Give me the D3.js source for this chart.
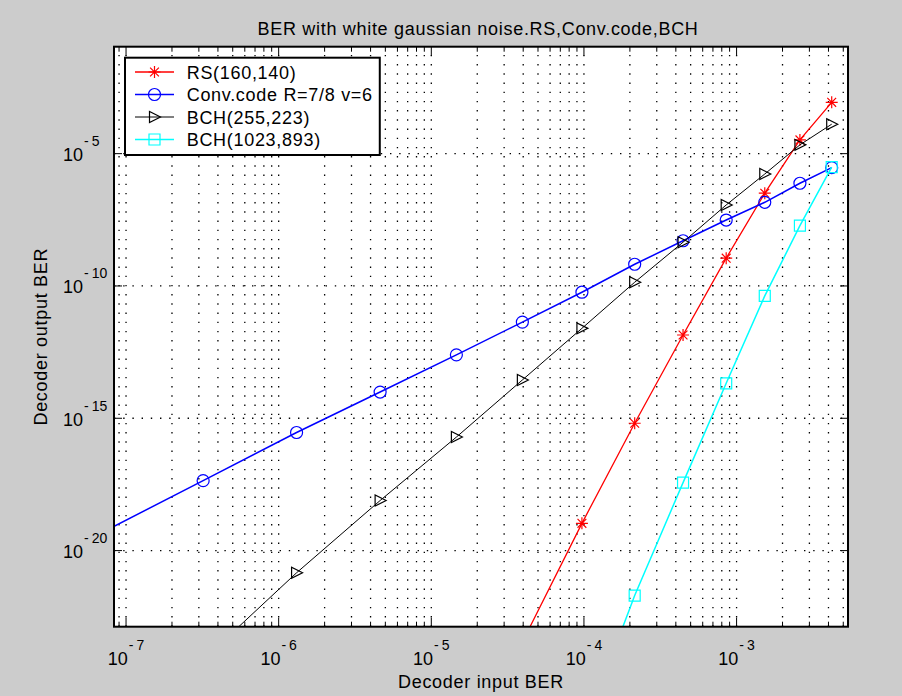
<!DOCTYPE html>
<html>
<head>
<meta charset="utf-8">
<script src="https://cdn.jsdelivr.net/npm/d3@7"></script>
<style>
  body { margin: 0; background: #cccccc; }
  svg { display: block; font-family: "Liberation Sans", Arial, sans-serif; }
</style>
</head>
<body>
<svg id="chart" width="902" height="696"></svg>
<script>
// decoder input BER, shared by all four curves
const inputBer = [7.0e-8, 3.2e-7, 1.31e-6, 4.62e-6, 1.46e-5, 3.95e-5, 9.7e-5,
  2.15e-4, 4.46e-4, 8.55e-4, 1.53e-3, 2.6e-3, 4.2e-3];

// decoder output BER per code (null = not computed)
const rsBer = [null, null, null, null, null, 3.5e-24, 1.07e-19,
  6.5e-16, 1.4e-12, 1.12e-9, 3.2e-7, 3.3e-5, 8.7e-4];
const convBer = [4.9e-20, 4.4e-18, 2.9e-16, 9.8e-15, 2.5e-13, 4.3e-12, 5.8e-11,
  6.6e-10, 5.1e-9, 3.1e-8, 1.45e-7, 7.6e-7, 2.95e-6];
const bch255Ber = [null, 7.4e-25, 1.45e-21, 7.8e-19, 1.95e-16, 2.8e-14, 2.5e-12,
  1.38e-10, 4.5e-9, 1.15e-7, 1.7e-6, 2.15e-5, 1.3e-4];
const bch1023Ber = [null, null, null, null, null, null, 1.07e-27,
  2.0e-22, 3.7e-18, 2.1e-14, 4.2e-11, 1.9e-8, 3.1e-6];

const seriesNames = ["RS(160,140)", "Conv.code R=7/8 v=6", "BCH(255,223)", "BCH(1023,893)"];
const xTickExps = [-7, -6, -5, -4, -3];
const yTickExps = [-20, -15, -10, -5];
const xLimits = [8.34e-8, 5.37e-3];
const yLimits = [1.33e-23, 0.11];

const titleText = "BER with white gaussian noise.RS,Conv.code,BCH";
const xLabel = "Decoder input BER";
const yLabel = "Decoder output BER";

const pLeft = 114, pRight = 848, pTop = 46.7, pBottom = 626.7;
const dots = "1.4 7.8";
const fontSize = 18;
const spacing = "0.7px";

let svg = d3.select("#chart");

let x = d3.scaleLog().domain(xLimits).range([pLeft, pRight]);
let y = d3.scaleLog().domain(yLimits).range([pBottom, pTop]);

// axes background
svg.append("rect")
  .attr("x", pLeft).attr("y", pTop)
  .attr("width", pRight - pLeft).attr("height", pBottom - pTop)
  .style("fill", "#fff");

svg.append("clipPath").attr("id", "plotClip")
  .append("rect")
  .attr("x", pLeft).attr("y", pTop)
  .attr("width", pRight - pLeft).attr("height", pBottom - pTop);

// every x tick: 1..9 of each decade inside the limits
let xMinor = [];
for (let e = -8; e <= -3; e++) {
  for (let k = 1; k <= 9; k++) {
    let v = k * Math.pow(10, e);
    if (v >= xLimits[0] && v <= xLimits[1]) xMinor.push(v);
  }
}
let xMajor = xTickExps.map((e) => Math.pow(10, e));
let yMajor = yTickExps.map((e) => Math.pow(10, e));

// dotted grid
let grid = svg.append("g")
  .style("stroke", "#000")
  .style("stroke-width", 1.3)
  .style("stroke-dasharray", dots);

grid.selectAll("line.vg")
  .data(xMinor)
  .enter()
  .append("line")
  .attr("class", "vg")
  .attr("x1", (d) => x(d)).attr("x2", (d) => x(d))
  .attr("y1", pBottom).attr("y2", pTop);

grid.selectAll("line.hg")
  .data(yMajor)
  .enter()
  .append("line")
  .attr("class", "hg")
  .attr("x1", pLeft).attr("x2", pRight)
  .attr("y1", (d) => y(d)).attr("y2", (d) => y(d));

// tick marks (inside, on all four sides)
let ticks = svg.append("g").style("stroke", "#000").style("stroke-width", 1);
xMinor.forEach((v) => {
  let len = xMajor.some((m) => Math.abs(m - v) / m < 1e-9) ? 9 : 5;
  ticks.append("line").attr("x1", x(v)).attr("x2", x(v))
    .attr("y1", pBottom).attr("y2", pBottom - len);
  ticks.append("line").attr("x1", x(v)).attr("x2", x(v))
    .attr("y1", pTop).attr("y2", pTop + len);
});
yMajor.forEach((v) => {
  ticks.append("line").attr("x1", pLeft).attr("x2", pLeft + 8)
    .attr("y1", y(v)).attr("y2", y(v));
  ticks.append("line").attr("x1", pRight).attr("x2", pRight - 8)
    .attr("y1", y(v)).attr("y2", y(v));
});

// markers
function markerPath(kind) {
  if (kind === "star") {
    let s = 6, d = 4.4;
    return `M${-s},0L${s},0M0,${-s}L0,${s}M${-d},${-d}L${d},${d}M${-d},${d}L${d},${-d}`;
  }
  if (kind === "circle") {
    let r = 6;
    return `M${r},0A${r},${r} 0 1,1 ${-r},0A${r},${r} 0 1,1 ${r},0Z`;
  }
  if (kind === "triangle") {
    return "M6,0L-5,-5.5L-5,5.5Z";
  }
  return "M-5.5,-5.5L5.5,-5.5L5.5,5.5L-5.5,5.5Z";
}

let series = [
  { name: seriesNames[0], values: rsBer, color: "#ff0000", marker: "star", width: 1.3 },
  { name: seriesNames[1], values: convBer, color: "#0000ff", marker: "circle", width: 1.5 },
  { name: seriesNames[2], values: bch255Ber, color: "#000000", marker: "triangle", width: 1 },
  { name: seriesNames[3], values: bch1023Ber, color: "#00ffff", marker: "square", width: 1.5 },
];

let line = d3.line()
  .defined((d) => d[1] != null)
  .x((d) => x(d[0]))
  .y((d) => y(d[1]));

let plot = svg.append("g").attr("clip-path", "url(#plotClip)");

series.forEach((s) => {
  let pts = inputBer.map((v, i) => [v, s.values[i]]);
  plot.append("path")
    .attr("d", line(pts))
    .style("fill", "none")
    .style("stroke", s.color)
    .style("stroke-width", s.width);
  plot.selectAll(null)
    .data(pts.filter((p) => p[1] != null))
    .enter()
    .append("path")
    .attr("transform", (d) => `translate(${x(d[0])},${y(d[1])})`)
    .attr("d", markerPath(s.marker))
    .style("fill", "none")
    .style("stroke", s.color)
    .style("stroke-width", 1.2);
});

// frame
svg.append("rect")
  .attr("x", pLeft).attr("y", pTop)
  .attr("width", pRight - pLeft).attr("height", pBottom - pTop)
  .style("fill", "none")
  .style("stroke", "#000")
  .style("stroke-width", 2);

// tick labels: base "10" with a raised exponent
function expLabel(sel, d, rise) {
  sel.append("tspan").text("10");
  sel.append("tspan").attr("dy", -rise).attr("dx", 1)
    .style("font-size", "14px").text("-");
  sel.append("tspan").attr("dx", 3)
    .style("font-size", "14px").text(Math.abs(d));
}

svg.selectAll("text.xt")
  .data(xTickExps)
  .enter()
  .append("text")
  .attr("class", "xt")
  .attr("x", (d) => x(Math.pow(10, d)))
  .attr("y", 665)
  .attr("text-anchor", "middle")
  .style("font-size", fontSize + "px")
  .each(function (d) { expLabel(d3.select(this), d, 15); });

svg.selectAll("text.yt")
  .data(yTickExps)
  .enter()
  .append("text")
  .attr("class", "yt")
  .attr("x", 63)
  .attr("y", (d) => y(Math.pow(10, d)) + 7.5)
  .style("font-size", fontSize + "px")
  .each(function (d) { expLabel(d3.select(this), d, 15); });

// titles
svg.append("text")
  .attr("x", 478).attr("y", 35)
  .attr("text-anchor", "middle")
  .style("font-size", fontSize + "px")
  .style("letter-spacing", spacing)
  .text(titleText);

svg.append("text")
  .attr("x", (pLeft + pRight) / 2).attr("y", 688)
  .attr("text-anchor", "middle")
  .style("font-size", fontSize + "px")
  .style("letter-spacing", spacing)
  .text(xLabel);

svg.append("text")
  .attr("transform", `translate(47,${(pTop + pBottom) / 2}) rotate(-90)`)
  .attr("text-anchor", "middle")
  .style("font-size", fontSize + "px")
  .style("letter-spacing", spacing)
  .text(yLabel);

// legend
let legend = svg.append("g");
let legendBox = legend.append("rect")
  .attr("x", 125).attr("y", 57.7)
  .attr("height", 97.3)
  .style("fill", "#fff")
  .style("stroke", "#000")
  .style("stroke-width", 2);

let textRight = 0;
series.forEach((s, i) => {
  let ly = 72 + i * 22.5;
  legend.append("line")
    .attr("x1", 135).attr("x2", 174)
    .attr("y1", ly).attr("y2", ly)
    .style("stroke", s.color)
    .style("stroke-width", s.width);
  legend.append("path")
    .attr("transform", `translate(154.5,${ly})`)
    .attr("d", markerPath(s.marker))
    .style("fill", "none")
    .style("stroke", s.color)
    .style("stroke-width", 1.2);
  let t = legend.append("text")
    .attr("x", 186.7).attr("y", ly + 6.5)
    .style("font-size", fontSize + "px")
    .style("letter-spacing", spacing)
    .text(s.name);
  let b = t.node().getBBox();
  textRight = Math.max(textRight, b.x + b.width);
});
legendBox.attr("width", textRight + 7 - 125);
</script>
</body>
</html>
